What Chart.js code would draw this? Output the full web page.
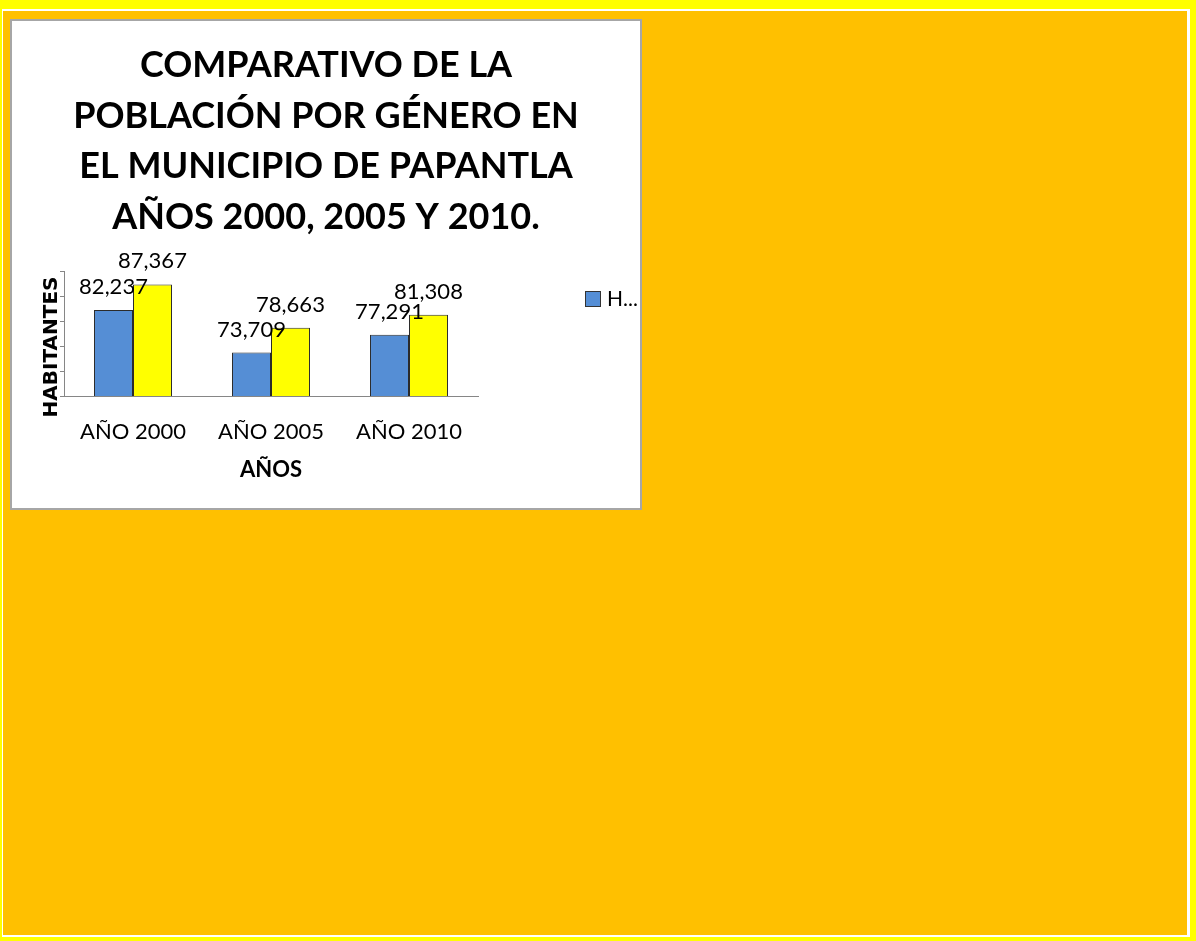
<!DOCTYPE html>
<html lang="es">
<head>
<meta charset="utf-8">
<title>Población por género - Papantla</title>
<script src="https://cdn.jsdelivr.net/npm/chart.js@4"></script>
<style>
  body { margin: 0; background: #ffff00; width: 1196px; height: 941px; overflow: hidden; }
  #marco { position: absolute; left: 2px; top: 9px; width: 1188px; height: 928px; background: #ffffff; }
  #fondo { position: absolute; left: 3px; top: 11px; width: 1184px; height: 924px; background: #ffc000; }
  #caja { position: absolute; left: 10px; top: 19px; width: 628px; height: 487px; border: 2px solid #a6a6a6; background: #ffffff; }
</style>
</head>
<body>
<div id="marco"></div>
<div id="fondo"></div>
<div id="caja"><canvas id="grafica"></canvas></div>
<script>
// Datos
const anios = ["AÑO 2000", "AÑO 2005", "AÑO 2010"];
const hombres = [82237, 73709, 77291];
const mujeres = [87367, 78663, 81308];
const series = ["HOMBRES", "MUJERES"];
const titulo = [
  "COMPARATIVO DE LA",
  "POBLACIÓN POR GÉNERO EN",
  "EL MUNICIPIO DE PAPANTLA",
  "AÑOS 2000, 2005 Y 2010."
];

// Etiquetas de valor encima de cada barra, título del eje Y y leyenda recortada
const extras = {
  id: "extras",
  afterDatasetsDraw(chart) {
    const ctx = chart.ctx;
    ctx.save();
    ctx.fillStyle = "#000";
    ctx.font = "22px Lato";
    ctx.textAlign = "center";
    ctx.textBaseline = "alphabetic";
    chart.data.datasets.forEach(function (ds, i) {
      chart.getDatasetMeta(i).data.forEach(function (barra, j) {
        ctx.fillText(ds.data[j].toLocaleString("en-US"), barra.x, barra.y - 16);
      });
    });
    // título vertical
    ctx.font = "bold 20px 'DejaVu Sans'";
    ctx.textBaseline = "middle";
    ctx.translate(40, 326);
    ctx.rotate(-Math.PI / 2);
    ctx.fillText("HABITANTES", 0, 0);
    ctx.restore();

    // leyenda (solo se ve la primera serie, cortada)
    ctx.save();
    ctx.fillStyle = chart.data.datasets[0].backgroundColor;
    ctx.strokeStyle = "#333";
    ctx.lineWidth = 1;
    ctx.fillRect(573, 270, 15, 15);
    ctx.strokeRect(573.5, 270.5, 15, 15);
    ctx.fillStyle = "#000";
    ctx.font = "21px Lato";
    ctx.textBaseline = "middle";
    ctx.fillText(series[0].charAt(0) + "...", 595, 278);
    ctx.restore();
  }
};

const config = {
  type: "bar",
  data: {
    labels: anios,
    datasets: [
      {
        label: series[0],
        data: hombres,
        backgroundColor: "#558ed5",
        borderColor: "#2b2b2b",
        borderWidth: 1,
        categoryPercentage: 0.565,
        barPercentage: 1
      },
      {
        label: series[1],
        data: mujeres,
        backgroundColor: "#ffff00",
        borderColor: "#2b2b2b",
        borderWidth: 1,
        categoryPercentage: 0.565,
        barPercentage: 1
      }
    ]
  },
  options: {
    responsive: true,
    maintainAspectRatio: false,
    animation: false,
    layout: { padding: 0 },
    plugins: {
      legend: { display: false },
      tooltip: { enabled: false },
      title: {
        display: true,
        text: titulo,
        color: "#000",
        font: { family: "Lato", size: 36, weight: "bold", lineHeight: 1.415 },
        padding: { top: 18.5, bottom: 28 }
      }
    },
    scales: {
      x: {
        grid: { display: false, drawTicks: false },
        border: { display: true, color: "#868686", width: 1 },
        ticks: { color: "#000", font: { family: "Lato", size: 22 }, padding: 22.5, maxRotation: 0 },
        title: {
          display: true,
          text: "AÑOS",
          color: "#000",
          font: { family: "Lato", size: 22, weight: "bold" },
          padding: { top: 0, bottom: 25 }
        },
        afterFit(escala) { escala.height = 112; }
      },
      y: {
        min: 65000,
        max: 90000,
        ticks: { stepSize: 5000, display: false },
        grid: { drawOnChartArea: false, drawTicks: true, tickLength: 4, color: "#868686" },
        border: { display: true, color: "#868686", width: 1 },
        afterFit(escala) { escala.width = 52; }
      },
      // eje vacío a la derecha: deja el hueco donde va la leyenda
      derecha: {
        type: "linear",
        position: "right",
        display: true,
        grid: { display: false },
        border: { display: false },
        ticks: { display: false },
        afterFit(escala) { escala.width = 162; }
      }
    }
  },
  plugins: [extras]
};

const grafica = new Chart(document.querySelector("#grafica"), config);
</script>
</body>
</html>
